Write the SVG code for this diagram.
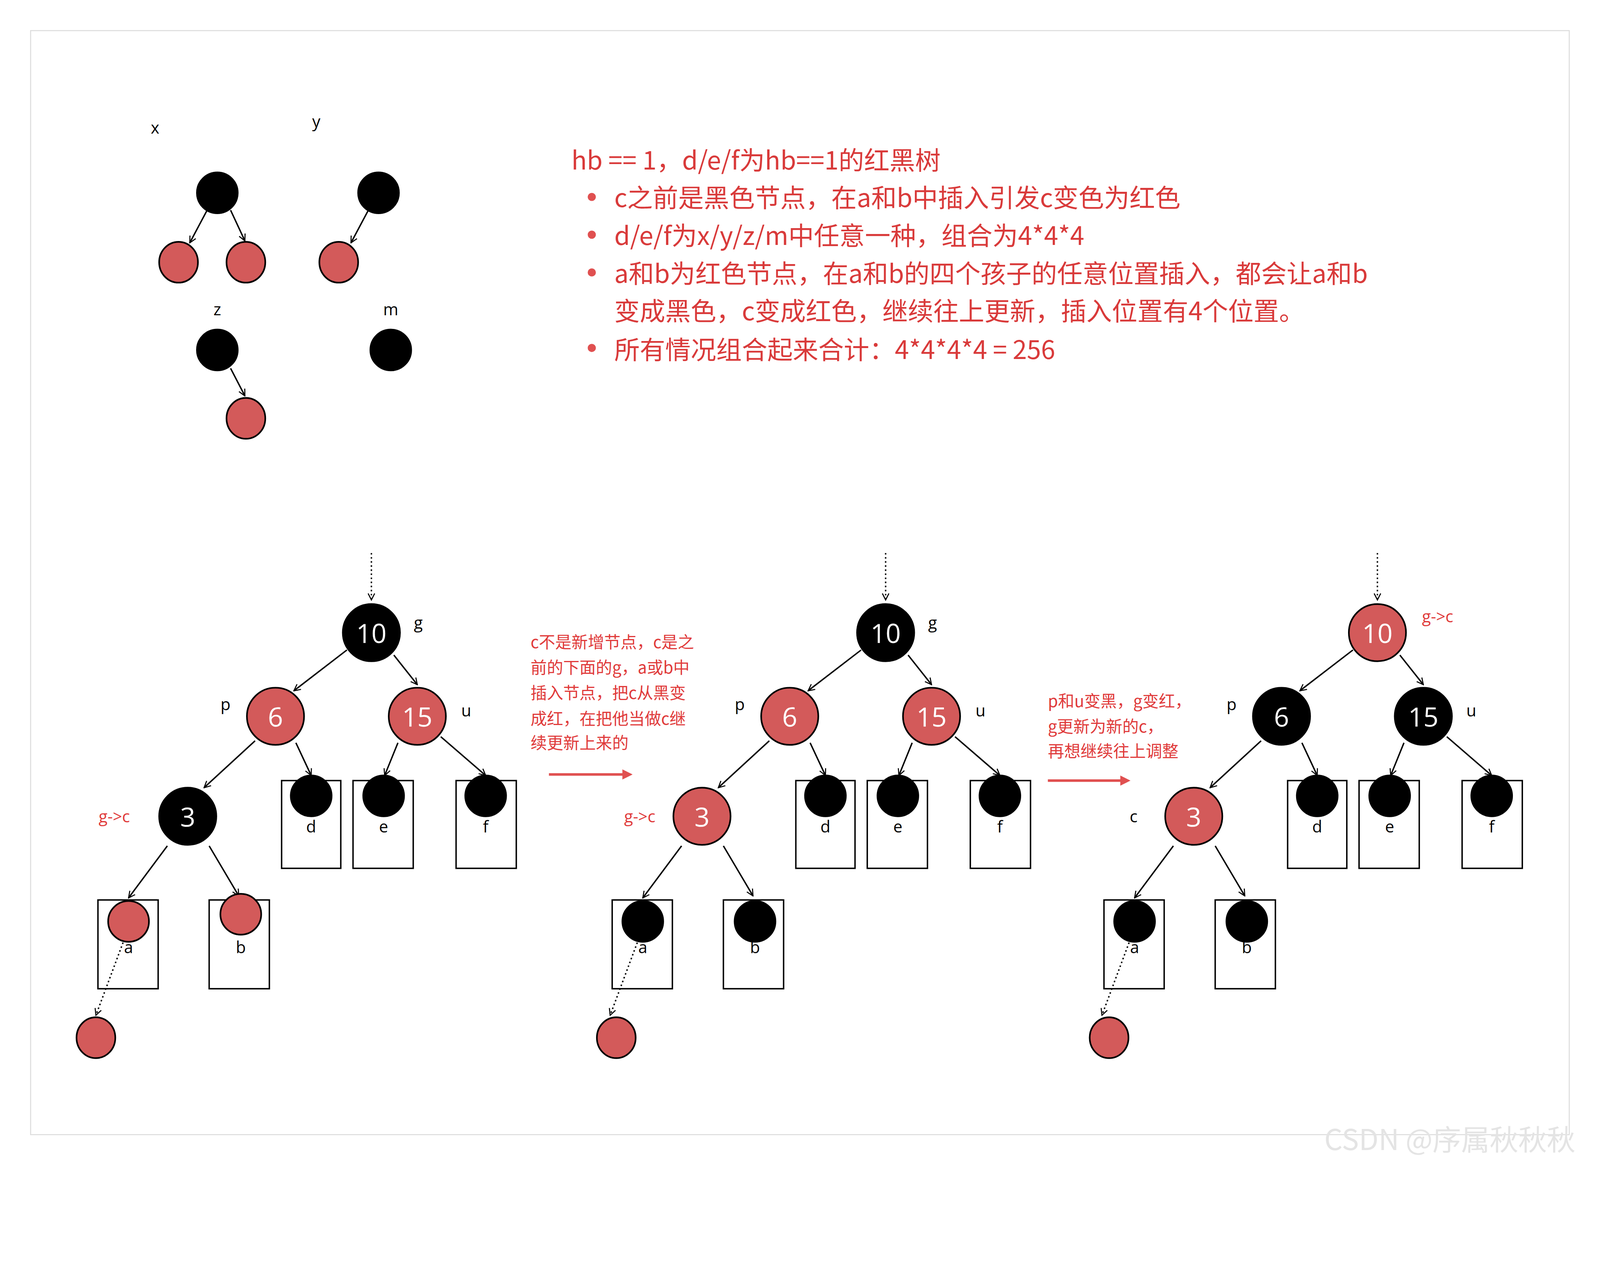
<svg xmlns="http://www.w3.org/2000/svg" width="4428" height="3228" viewBox="0 0 4428 3228">
<style>
.b{fill:#000;stroke:#000;stroke-width:1.6}
.r{fill:#d35a5a;stroke:#000;stroke-width:1.6}
.e{stroke:#000;stroke-width:1.4;fill:none;marker-end:url(#v)}
.d{stroke:#000;stroke-width:1.4;fill:none;stroke-dasharray:1.5 2.5;marker-end:url(#v)}
.bx{fill:none;stroke:#000;stroke-width:1.4}
.n{font-family:"Open Sans","Liberation Sans",sans-serif;font-size:26px;fill:#fff;text-anchor:middle}
.l{font-family:"Open Sans","Liberation Sans",sans-serif;font-size:16px;fill:#000;text-anchor:middle}
.rl{font-family:"Open Sans","Liberation Sans",sans-serif;font-size:16px;fill:#e03a3a;text-anchor:middle}
.t{font-family:"Noto Sans CJK SC","Noto Sans",sans-serif;font-size:25px;fill:#d93a3a}
.s{font-family:"Noto Sans CJK SC","Noto Sans",sans-serif;font-size:16px;fill:#e03a3a}
</style>
<defs>
<marker id="v" viewBox="0 0 10 10" refX="9" refY="5" markerWidth="8" markerHeight="8" orient="auto" markerUnits="userSpaceOnUse"><path d="M1 1L9 5L1 9" fill="none" stroke="#000" stroke-width="1.3"/></marker>
<marker id="ra" viewBox="0 0 10 10" refX="2" refY="5" markerWidth="4" markerHeight="4" orient="auto"><path d="M0 0L10 5L0 10Z" fill="#e05050"/></marker>
</defs>
<rect width="4428" height="3228" fill="#fff"/>
<g transform="scale(2.612,2.612)">
<rect x="30" y="30" width="1508" height="1082" fill="#fff" stroke="#ddd" stroke-width="1"/>
<g id="connectors">
<line class="e" x1="203" y1="206" x2="186" y2="238"/>
<line class="e" x1="226" y1="206" x2="240" y2="236"/>
<line class="e" x1="361" y1="206" x2="344" y2="238"/>
<line class="e" x1="226" y1="361" x2="240" y2="388"/>
<g id="c1">
<line class="d" x1="364" y1="542" x2="364" y2="588"/>
<line class="e" x1="340" y1="637" x2="288" y2="677"/>
<line class="e" x1="386" y1="642" x2="409" y2="671"/>
<line class="e" x1="250" y1="726" x2="200" y2="772"/>
<line class="e" x1="290" y1="728" x2="305" y2="760"/>
<line class="e" x1="390" y1="728" x2="377" y2="760"/>
<line class="e" x1="432" y1="722" x2="476" y2="760"/>
<line class="e" x1="164" y1="829" x2="126" y2="880"/>
<line class="e" x1="205" y1="829" x2="234" y2="878"/>
<line class="d" x1="122" y1="920" x2="94" y2="995"/>
</g>
<use href="#c1" transform="translate(504,0)"/>
<use href="#c1" transform="translate(986,0)"/>
<line x1="538" y1="759" x2="612" y2="759" stroke="#e05050" stroke-width="2.5" marker-end="url(#ra)"/>
<line x1="1027" y1="765" x2="1100" y2="765" stroke="#e05050" stroke-width="2.5" marker-end="url(#ra)"/>
</g>
<g id="small">
<text class="l" x="152" y="131">x</text><text class="l" x="310" y="125">y</text>
<text class="l" x="213" y="309">z</text><text class="l" x="383" y="309">m</text>
<circle class="b" cx="213" cy="189" r="20"/><ellipse class="r" cx="175" cy="257" rx="19" ry="20"/><ellipse class="r" cx="241" cy="257" rx="19" ry="20"/>
<circle class="b" cx="371" cy="189" r="20"/><ellipse class="r" cx="332" cy="257" rx="19" ry="20"/>
<circle class="b" cx="213" cy="343" r="20"/><ellipse class="r" cx="241" cy="410" rx="19" ry="20"/>
<circle class="b" cx="383" cy="343" r="20"/>
</g>
<g id="desc">
<text class="t" x="560" y="166">hb == 1，d/e/f为hb==1的红黑树</text>
<g fill="#e05050"><circle cx="580" cy="193" r="4"/><circle cx="580" cy="230" r="4"/><circle cx="580" cy="267" r="4"/><circle cx="580" cy="341" r="4"/></g>
<text class="t" x="602" y="203">c之前是黑色节点，在a和b中插入引发c变色为红色</text>
<text class="t" x="602" y="240">d/e/f为x/y/z/m中任意一种，组合为4*4*4</text>
<text class="t" x="602" y="277">a和b为红色节点，在a和b的四个孩子的任意位置插入，都会让a和b</text>
<text class="t" x="602" y="314">变成黑色，c变成红色，继续往上更新，插入位置有4个位置。</text>
<text class="t" x="602" y="352">所有情况组合起来合计：4*4*4*4 = 256</text>
</g>
<g id="tree1">
<circle class="b" cx="364" cy="620" r="28"/><text class="n" x="364" y="630">10</text><text class="l" x="410" y="616">g</text>
<circle class="r" cx="270" cy="702" r="28"/><text class="n" x="270" y="712">6</text><text class="l" x="221" y="696">p</text>
<circle class="r" cx="409" cy="702" r="28"/><text class="n" x="409" y="712">15</text><text class="l" x="457" y="702">u</text>
<circle class="b" cx="184" cy="800" r="28"/><text class="n" x="184" y="810">3</text><text class="rl" x="112" y="806">g-&gt;c</text>
<rect class="bx" x="276" y="765" width="58" height="86"/><circle class="b" cx="305" cy="780" r="20"/><text class="l" x="305" y="816">d</text>
<rect class="bx" x="346" y="765" width="59" height="86"/><circle class="b" cx="376" cy="780" r="20"/><text class="l" x="376" y="816">e</text>
<rect class="bx" x="447" y="765" width="59" height="86"/><circle class="b" cx="476" cy="780" r="20"/><text class="l" x="476" y="816">f</text>
<rect class="bx" x="96" y="882" width="59" height="87"/><circle class="r" cx="126" cy="903" r="20"/><text class="l" x="126" y="934">a</text>
<rect class="bx" x="205" y="882" width="59" height="87"/><circle class="r" cx="236" cy="896" r="20"/><text class="l" x="236" y="934">b</text>
<ellipse class="r" cx="94" cy="1017" rx="19" ry="20"/>
</g>
<g id="note1">
<text class="s" x="520" y="635">c不是新增节点，c是之</text>
<text class="s" x="520" y="660">前的下面的g，a或b中</text>
<text class="s" x="520" y="685">插入节点，把c从黑变</text>
<text class="s" x="520" y="710">成红，在把他当做c继</text>
<text class="s" x="520" y="734">续更新上来的</text>
</g>
<g id="tree2" transform="translate(504,0)">
<circle class="b" cx="364" cy="620" r="28"/><text class="n" x="364" y="630">10</text><text class="l" x="410" y="616">g</text>
<circle class="r" cx="270" cy="702" r="28"/><text class="n" x="270" y="712">6</text><text class="l" x="221" y="696">p</text>
<circle class="r" cx="409" cy="702" r="28"/><text class="n" x="409" y="712">15</text><text class="l" x="457" y="702">u</text>
<circle class="r" cx="184" cy="800" r="28"/><text class="n" x="184" y="810">3</text><text class="rl" x="123" y="806">g-&gt;c</text>
<rect class="bx" x="276" y="765" width="58" height="86"/><circle class="b" cx="305" cy="780" r="20"/><text class="l" x="305" y="816">d</text>
<rect class="bx" x="346" y="765" width="59" height="86"/><circle class="b" cx="376" cy="780" r="20"/><text class="l" x="376" y="816">e</text>
<rect class="bx" x="447" y="765" width="59" height="86"/><circle class="b" cx="476" cy="780" r="20"/><text class="l" x="476" y="816">f</text>
<rect class="bx" x="96" y="882" width="59" height="87"/><circle class="b" cx="126" cy="903" r="20"/><text class="l" x="126" y="934">a</text>
<rect class="bx" x="205" y="882" width="59" height="87"/><circle class="b" cx="236" cy="903" r="20"/><text class="l" x="236" y="934">b</text>
<ellipse class="r" cx="100" cy="1017" rx="19" ry="20"/>
</g>
<g id="note2">
<text class="s" x="1027" y="693">p和u变黑，g变红，</text>
<text class="s" x="1027" y="718">g更新为新的c，</text>
<text class="s" x="1027" y="742">再想继续往上调整</text>
</g>
<g id="tree3" transform="translate(986,0)">
<circle class="r" cx="364" cy="620" r="28"/><text class="n" x="364" y="630">10</text><text class="rl" x="423" y="610">g-&gt;c</text>
<circle class="b" cx="270" cy="702" r="28"/><text class="n" x="270" y="712">6</text><text class="l" x="221" y="696">p</text>
<circle class="b" cx="409" cy="702" r="28"/><text class="n" x="409" y="712">15</text><text class="l" x="456" y="702">u</text>
<circle class="r" cx="184" cy="800" r="28"/><text class="n" x="184" y="810">3</text><text class="l" x="125" y="806">c</text>
<rect class="bx" x="276" y="765" width="58" height="86"/><circle class="b" cx="305" cy="780" r="20"/><text class="l" x="305" y="816">d</text>
<rect class="bx" x="346" y="765" width="59" height="86"/><circle class="b" cx="376" cy="780" r="20"/><text class="l" x="376" y="816">e</text>
<rect class="bx" x="447" y="765" width="59" height="86"/><circle class="b" cx="476" cy="780" r="20"/><text class="l" x="476" y="816">f</text>
<rect class="bx" x="96" y="882" width="59" height="87"/><circle class="b" cx="126" cy="903" r="20"/><text class="l" x="126" y="934">a</text>
<rect class="bx" x="205" y="882" width="59" height="87"/><circle class="b" cx="236" cy="903" r="20"/><text class="l" x="236" y="934">b</text>
<ellipse class="r" cx="101" cy="1017" rx="19" ry="20"/>
</g>
<text x="1298" y="1127" font-family="Noto Sans CJK SC,Noto Sans,sans-serif" font-size="28" fill="#e4e4e4">CSDN @序属秋秋秋</text>
</g>
</svg>
